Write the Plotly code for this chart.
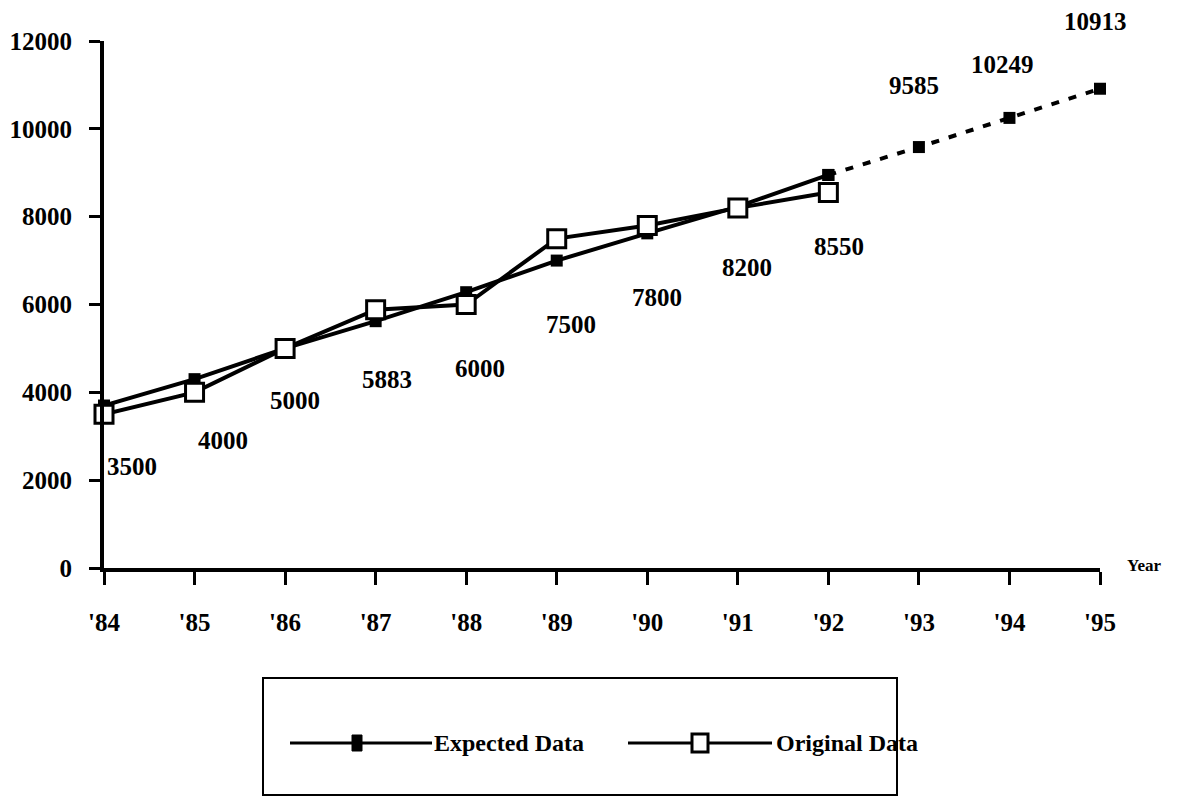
import plotly.graph_objects as go

years = ["'84", "'85", "'86", "'87", "'88", "'89", "'90", "'91", "'92", "'93", "'94", "'95"]
expected = [3700, 4300, 5000, 5620, 6280, 7000, 7620, 8230, 8950, 9585, 10249, 10913]
original = [3500, 4000, 5000, 5883, 6000, 7500, 7800, 8200, 8550]
label_values = original + expected[9:]
y_ticks = [0, 2000, 4000, 6000, 8000, 10000, 12000]
y_tick_text = ["0", "2000", "4000", "6000", "8000", "10000", "12000"]

# pixel offsets for the value labels (styling only)
label_dx = [28, 28, 10, 11, 14, 14, 10, 9, 11, -5, -7, -5]
label_dy = [-52, -48, -52, -70, -64, -86, -72, -60, -54, 62, 53, 67]

FONT = "Liberation Serif"
n_hist = len(original)


def tfont(size):
    return dict(family=FONT, size=size, color="black", weight="bold")


fig = go.Figure()
fig.add_trace(go.Scatter(
    x=years[:n_hist], y=expected[:n_hist], mode="lines+markers",
    line=dict(color="black", width=4),
    marker=dict(symbol="square", size=12, color="black"),
    cliponaxis=False, name="Expected Data", showlegend=False))
fig.add_trace(go.Scatter(
    x=years[n_hist - 1:], y=expected[n_hist - 1:], mode="lines+markers",
    line=dict(color="black", width=4, dash="8px,10px"),
    marker=dict(symbol="square", size=12, color="black"),
    cliponaxis=False, showlegend=False))
fig.add_trace(go.Scatter(
    x=years[:n_hist], y=original, mode="lines+markers",
    line=dict(color="black", width=4),
    marker=dict(symbol="square", size=18, color="white", line=dict(color="black", width=3)),
    cliponaxis=False, name="Original Data", showlegend=False))

annotations = []
for i, v in enumerate(label_values):
    annotations.append(dict(
        x=i, y=v, xref="x", yref="y", text=str(v), showarrow=False,
        xshift=label_dx[i], yshift=label_dy[i], xanchor="center", yanchor="middle",
        font=tfont(25)))

annotations.append(dict(x=1.025, y=0.005, xref="paper", yref="paper", text="Year",
                        showarrow=False, xanchor="left", yanchor="middle",
                        font=tfont(17)))

OFF = 8  # page body margin
W, H = 1174, 790
L, T = 96, 33
pw = 1092 - L
ph = 560 - T
R = W - L - pw
B = H - T - ph


def px(xp):
    return (xp - OFF - L) / pw


def py(yp):
    return (OFF + T + ph - yp) / ph


shapes = [dict(type="rect", xref="paper", yref="paper", x0=px(263), x1=px(897),
               y0=py(678), y1=py(795), line=dict(color="black", width=2))]
ly = py(743)
shapes.append(dict(type="line", xref="paper", yref="paper", x0=px(290), x1=px(432),
                   y0=ly, y1=ly, line=dict(color="black", width=3)))
shapes.append(dict(type="rect", xref="paper", yref="paper", xsizemode="pixel", ysizemode="pixel",
                   xanchor=px(357), yanchor=ly, x0=-5, x1=5, y0=-8, y1=8,
                   fillcolor="black", line=dict(color="black", width=1)))
shapes.append(dict(type="line", xref="paper", yref="paper", x0=px(628), x1=px(772),
                   y0=ly, y1=ly, line=dict(color="black", width=3)))
shapes.append(dict(type="rect", xref="paper", yref="paper", xsizemode="pixel", ysizemode="pixel",
                   xanchor=px(700), yanchor=ly, x0=-8, x1=8, y0=-9, y1=9,
                   fillcolor="white", line=dict(color="black", width=3)))
annotations.append(dict(x=px(432), y=ly, xref="paper", yref="paper", text="Expected Data",
                        showarrow=False, xanchor="left", yanchor="middle",
                        font=tfont(24)))
annotations.append(dict(x=px(774), y=ly, xref="paper", yref="paper", text="Original Data",
                        showarrow=False, xanchor="left", yanchor="middle",
                        font=tfont(24)))

fig.update_layout(
    width=W, height=H,
    margin=dict(l=L, r=R, t=T, b=B, autoexpand=False),
    paper_bgcolor="white", plot_bgcolor="white",
    showlegend=False,
    xaxis=dict(type="category", categoryarray=years, range=[0, len(years) - 1],
               automargin=False,
               showgrid=False, zeroline=False, showline=True, linecolor="black", linewidth=4,
               ticks="outside", ticklen=13, tickwidth=3, tickcolor="black",
               ticklabelstandoff=16,
               tickfont=tfont(25)),
    xaxis2=dict(overlaying="x", anchor="y", side="bottom", type="linear",
                range=[0, len(years) - 1], tickmode="array", tickvals=list(range(len(years))),
                automargin=False,
                showgrid=False, zeroline=False, showline=False, showticklabels=False,
                ticks="inside", ticklen=13, tickwidth=3, tickcolor="black"),
    yaxis=dict(range=[0, 12000], tickmode="array", tickvals=y_ticks, ticktext=y_tick_text,
               automargin=False,
               showgrid=False, zeroline=False, showline=True, linecolor="black", linewidth=4,
               ticks="outside", ticklen=11, tickwidth=3, tickcolor="black",
               ticklabelstandoff=12,
               tickfont=tfont(25)),
    yaxis2=dict(overlaying="y", anchor="x", side="left", range=[0, 12000],
                tickmode="array", tickvals=y_ticks, automargin=False,
                showgrid=False, zeroline=False, showline=False, showticklabels=False,
                ticks="inside", ticklen=11, tickwidth=3, tickcolor="black"),
    annotations=annotations,
    shapes=shapes,
)

fig.write_html("out.html")
